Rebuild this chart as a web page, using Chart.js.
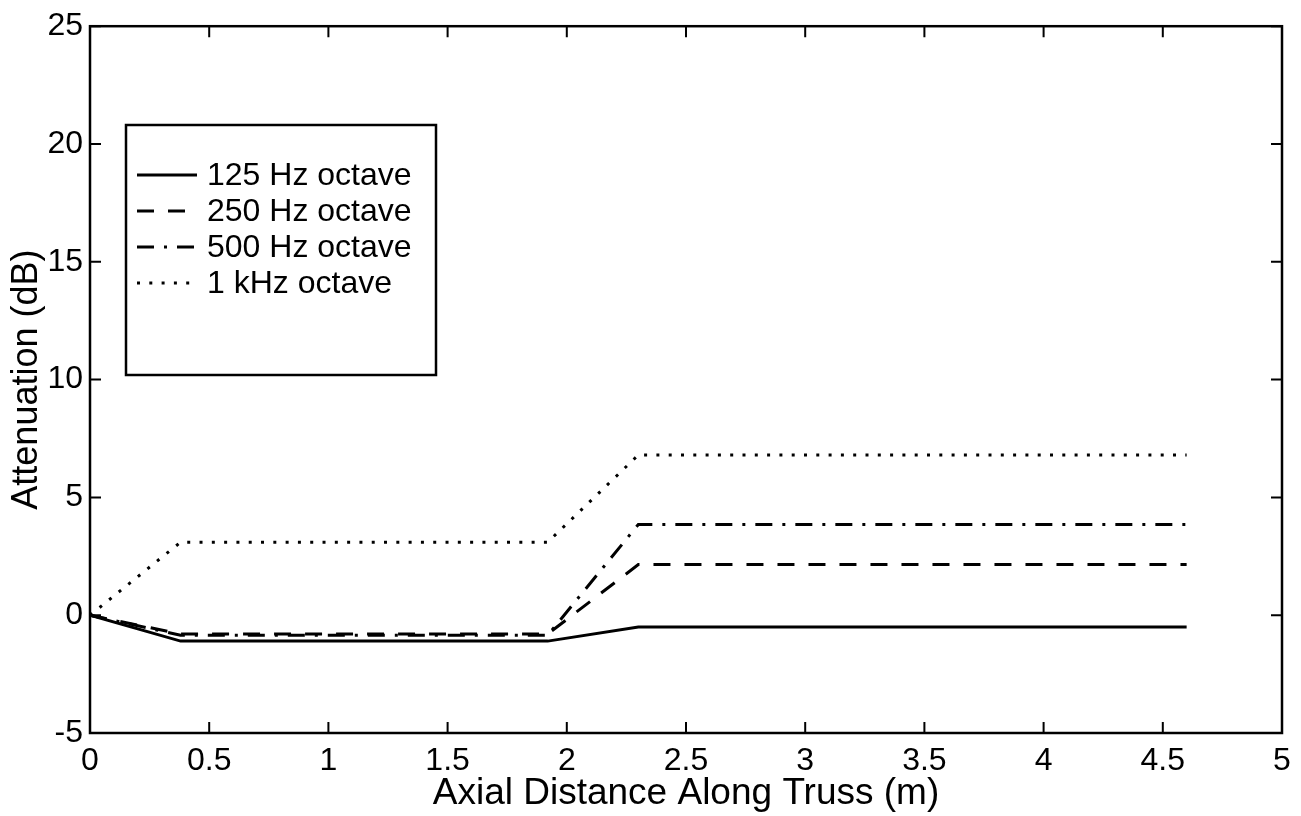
<!DOCTYPE html>
<html>
<head>
  <title>Attenuation Along Truss</title>
  <script src="https://cdn.jsdelivr.net/npm/chart.js"></script>
  <style>
    html, body { margin: 0; padding: 0; background: #fff; }
    #wrap { width: 1301px; height: 816px; }
  </style>
</head>
<body>
  <div id="wrap"><canvas id="attenChart"></canvas></div>

  <script>
    // Axial positions along the truss (m)
    var distance = [0, 0.38, 1.92, 2.3, 4.6];

    // Attenuation per octave band (dB)
    var octave125 = [0, -1.1, -1.1, -0.5, -0.5];
    var octave250 = [0, -0.8, -0.8, 2.15, 2.15];
    var octave500 = [0, -0.85, -0.85, 3.85, 3.85];
    var octave1k = [0, 3.1, 3.1, 6.8, 6.8];

    var seriesLabels = ['125 Hz octave', '250 Hz octave', '500 Hz octave', '1 kHz octave'];

    // Axis ticks
    var xTicks = [0, 0.5, 1, 1.5, 2, 2.5, 3, 3.5, 4, 4.5, 5];
    var yTicks = [-5, 0, 5, 10, 15, 20, 25];

    var fontFamily = '"Liberation Sans", Arial, Helvetica, sans-serif';

    function toPoints(ys) {
      return distance.map(function (x, i) { return { x: x, y: ys[i] }; });
    }

    // MATLAB-style box with inward ticks, plus a boxed legend inside the axes
    var boxPlugin = {
      id: 'boxAxes',
      afterDraw: function (chart) {
        var ctx = chart.ctx;
        var area = chart.chartArea;
        var xs = chart.scales.x;
        var ys = chart.scales.y;
        var tickLen = 11;

        ctx.save();
        ctx.strokeStyle = '#000';
        ctx.lineWidth = 2.5;
        ctx.strokeRect(area.left, area.top, area.right - area.left, area.bottom - area.top);

        ctx.lineWidth = 2;
        ctx.beginPath();
        xTicks.forEach(function (v) {
          var px = xs.getPixelForValue(v);
          ctx.moveTo(px, area.bottom);
          ctx.lineTo(px, area.bottom - tickLen);
          ctx.moveTo(px, area.top);
          ctx.lineTo(px, area.top + tickLen);
        });
        yTicks.forEach(function (v) {
          var py = ys.getPixelForValue(v);
          ctx.moveTo(area.left, py);
          ctx.lineTo(area.left + tickLen, py);
          ctx.moveTo(area.right, py);
          ctx.lineTo(area.right - tickLen, py);
        });
        ctx.stroke();

        // legend
        var lx = 126, ly = 125, lw = 310, lh = 250;
        ctx.fillStyle = '#fff';
        ctx.fillRect(lx, ly, lw, lh);
        ctx.lineWidth = 2.5;
        ctx.strokeRect(lx, ly, lw, lh);

        var rowY = [175, 211, 247, 283];
        ctx.font = '32px ' + fontFamily;
        ctx.textBaseline = 'middle';
        ctx.fillStyle = '#000';
        chart.data.datasets.forEach(function (ds, i) {
          ctx.beginPath();
          ctx.setLineDash(ds.borderDash || []);
          ctx.lineWidth = ds.borderWidth;
          ctx.moveTo(137, rowY[i]);
          ctx.lineTo(197, rowY[i]);
          ctx.stroke();
          ctx.setLineDash([]);
          ctx.fillText(ds.label, 207, rowY[i] + 1);
        });
        ctx.restore();
      }
    };

    var ctx = document.getElementById('attenChart').getContext('2d');
    var chart = new Chart(ctx, {
      type: 'line',
      data: {
        datasets: [
          { label: seriesLabels[0], data: toPoints(octave125), borderColor: '#000', borderWidth: 3, borderDash: [] },
          { label: seriesLabels[1], data: toPoints(octave250), borderColor: '#000', borderWidth: 3, borderDash: [17, 14] },
          { label: seriesLabels[2], data: toPoints(octave500), borderColor: '#000', borderWidth: 3, borderDash: [17, 10, 3, 10] },
          { label: seriesLabels[3], data: toPoints(octave1k), borderColor: '#000', borderWidth: 3, borderDash: [3, 9.3] }
        ]
      },
      options: {
        responsive: true,
        maintainAspectRatio: false,
        animation: false,
        elements: {
          point: { radius: 0 },
          line: { tension: 0, fill: false, borderCapStyle: 'butt' }
        },
        layout: { padding: { top: 20, right: 19, left: 0, bottom: 0 } },
        plugins: {
          legend: { display: false },
          tooltip: { enabled: false }
        },
        scales: {
          x: {
            type: 'linear',
            min: 0,
            max: 5,
            afterFit: function (scale) { scale.height = 83; },
            afterBuildTicks: function (scale) {
              scale.ticks = xTicks.map(function (v) { return { value: v }; });
            },
            grid: { display: false, drawTicks: false },
            border: { display: false },
            ticks: {
              padding: 9,
              color: '#000',
              font: { family: fontFamily, size: 32 },
              maxRotation: 0,
              callback: function (v) { return String(v); }
            },
            title: {
              display: true,
              text: 'Axial Distance Along Truss (m)',
              color: '#000',
              font: { family: fontFamily, size: 37, lineHeight: 1.15 },
              padding: { top: 0, bottom: 1 }
            }
          },
          y: {
            min: -5,
            max: 25,
            afterFit: function (scale) { scale.width = 90; },
            afterBuildTicks: function (scale) {
              scale.ticks = yTicks.map(function (v) { return { value: v }; });
            },
            grid: { display: false, drawTicks: false },
            border: { display: false },
            ticks: {
              padding: 7,
              color: '#000',
              font: { family: fontFamily, size: 32 },
              callback: function (v) { return String(v); }
            },
            title: {
              display: true,
              text: 'Attenuation (dB)',
              color: '#000',
              font: { family: fontFamily, size: 36, lineHeight: 1.15 },
              padding: { top: 6, bottom: 0 }
            }
          }
        }
      },
      plugins: [boxPlugin]
    });
  </script>
</body>
</html>
